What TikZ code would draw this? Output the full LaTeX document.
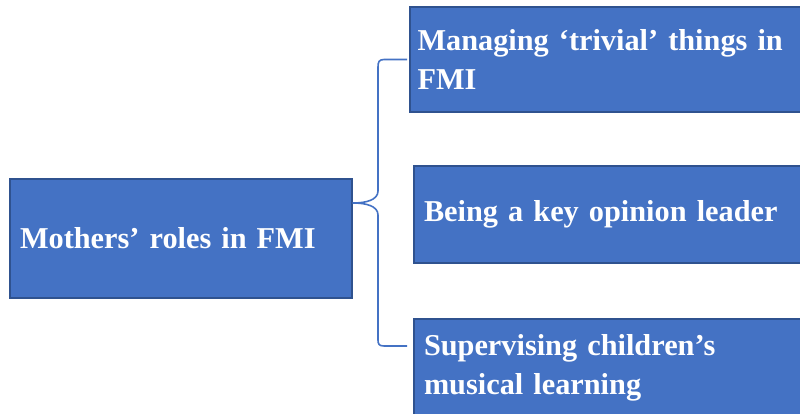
\documentclass[tikz,border=0pt]{standalone}
\usepackage{fontspec}
\setmainfont{Liberation Serif}
\usetikzlibrary{calc}
\definecolor{boxfill}{HTML}{4472C4}
\definecolor{boxline}{HTML}{2F528F}
\tikzset{
  rolebox/.style={draw=boxline, line width=1.4pt, fill=boxfill, text=white,
    font=\bfseries\fontsize{30.3}{39}\selectfont, align=left,
    anchor=north west, inner sep=0pt, outer sep=0pt},
  brace/.style={draw=boxfill, line width=1.6pt, line join=round}
}
\begin{document}
\begin{tikzpicture}[x=1pt,y=-1pt]
  \useasboundingbox (0,0) rectangle (800,414);
  % root box
  \node[rolebox, minimum width=342pt, minimum height=119pt,
        text width=322pt] (root) at (10,179) {Mothers’ roles in FMI};
  % role boxes
  \node[rolebox, minimum width=395pt, minimum height=105pt,
        text width=380pt] (trivial) at (410,7)
        {Managing ‘trivial’ things in\\FMI};
  \node[rolebox, minimum width=390pt, minimum height=97pt,
        text width=370pt] (leader) at (414,166)
        {Being a key opinion leader};
  \node[rolebox, minimum width=390pt, minimum height=98pt,
        text width=370pt] (music) at (414,319)
        {Supervising children’s\\musical learning};
  % brace joining the root to the three roles
  \coordinate (tip) at ($(root.north east)+(1,24)$);
  \coordinate (topend) at ($(trivial.west)+(-3,0)$);
  \coordinate (botend) at ($(music.north west)+(-7,27)$);
  \draw[brace] (topend) -- (384,59.5) .. controls (379,59.5) and (378,62) .. (378,67)
    -- (378,191) .. controls (378,200) and (366,203) .. (tip)
    .. controls (366,203) and (378,206) .. (378,215)
    -- (378,340) .. controls (378,344) and (379,346) .. (384,346) -- (botend);
\end{tikzpicture}
\end{document}
